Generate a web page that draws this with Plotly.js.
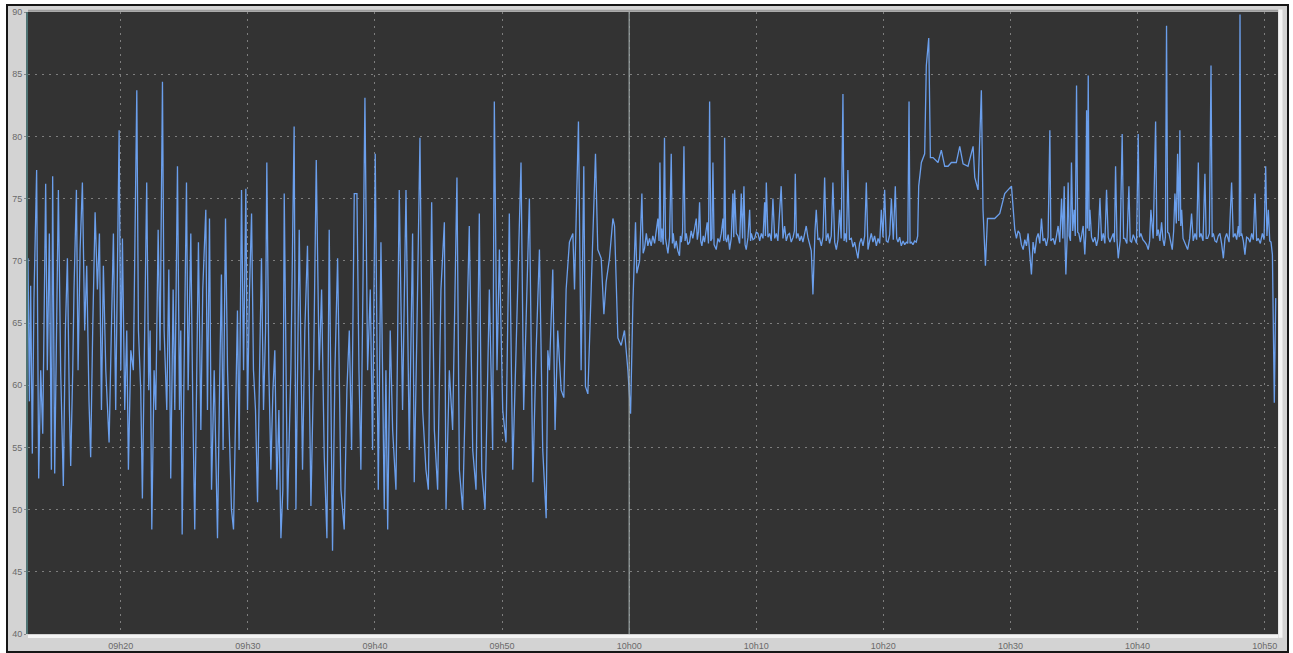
<!DOCTYPE html>
<html>
<head>
<meta charset="utf-8">
<script src="https://cdn.plot.ly/plotly-3.0.1.min.js"></script>
<style>
  html, body { margin: 0; padding: 0; background: #ffffff; width: 1293px; height: 653px; overflow: hidden; }
  #frame { position: absolute; left: 6px; top: 4px; width: 1279px; height: 645px; border: 2px solid #161616; background: #d3d3d3; }
  #chart { width: 1279px; height: 645px; }
</style>
</head>
<body>
<div id="frame"><div id="chart"></div></div>
<script>
// Times are minutes after 09:00; levels are the plotted values.
// 09:12 - 09:52 : strong oscillation
const timeSwing = [
12.70,12.81,12.91,13.04,13.17,13.38,13.54,13.70,13.86,14.09,14.22,14.38,14.54,14.64,14.80,14.96,15.09,15.27,15.48,15.64,
15.80,15.96,16.06,16.22,16.32,16.51,16.64,16.80,16.98,17.16,17.32,17.50,17.63,17.79,17.98,18.16,18.32,18.48,18.63,18.82,
19.08,19.26,19.42,19.60,19.87,20.00,20.13,20.31,20.47,20.60,20.79,20.99,21.13,21.26,21.39,21.57,21.70,21.89,22.04,22.20,
22.31,22.44,22.62,22.75,22.94,23.09,23.28,23.41,23.62,23.78,23.93,24.12,24.25,24.46,24.62,24.72,24.83,24.98,25.17,25.30,
25.51,25.67,25.82,25.98,26.11,26.30,26.45,26.69,26.82,26.98,27.14,27.35,27.48,27.61,27.77,27.92,28.05,28.24,28.40,28.55,
28.71,28.87,29.03,29.18,29.31,29.50,29.66,29.84,29.97,30.13,30.29,30.44,30.60,30.76,30.92,31.07,31.23,31.39,31.49,31.65,
31.81,31.97,32.12,32.28,32.44,32.60,32.75,
32.86,33.12,33.38,33.64,33.78,34.04,34.30,34.48,34.69,34.96,35.17,35.38,35.61,35.80,36.01,36.22,36.40,36.66,36.85,37.06,
37.32,37.58,37.79,37.98,38.16,38.37,38.58,38.74,38.89,39.05,39.21,39.42,39.63,39.81,40.02,40.26,40.47,40.73,40.86,41.00,
41.20,41.39,41.65,41.91,42.17,42.44,42.70,42.96,43.09,43.30,43.54,43.75,44.01,44.20,44.46,44.67,44.93,45.19,45.46,45.59,
45.85,46.11,46.45,46.64,46.90,47.16,47.42,47.69,47.95,48.21,48.40,48.66,49.00,49.26,49.39,49.60,49.79,50.05,50.31,50.57,
50.84,51.10,51.49,51.70
];
const levelSwing = [
70.2,58.7,68.0,54.5,67.0,77.3,52.5,61.2,56.1,76.2,61.2,72.2,53.2,76.8,52.9,67.7,75.7,61.2,51.9,64.4,
70.2,58.0,53.5,61.2,67.7,75.7,61.2,70.9,76.3,64.4,69.6,58.7,54.2,64.4,73.9,67.7,72.2,58.0,69.6,61.2,
55.4,64.4,72.2,58.0,80.5,61.2,71.8,58.0,64.4,53.2,62.8,61.2,70.9,83.7,64.4,59.6,50.9,64.4,76.3,59.6,
64.4,48.4,61.2,58.0,72.5,62.8,84.4,64.4,58.0,69.3,52.5,67.7,58.0,77.6,58.0,64.4,48.0,61.2,76.3,59.6,
72.2,58.0,48.4,61.2,71.5,56.4,67.7,74.1,58.0,73.4,51.6,61.2,54.8,47.7,59.6,68.9,54.8,73.4,61.2,56.4,
50.0,48.4,58.0,66.0,54.8,75.7,61.2,75.8,58.0,67.7,73.8,61.2,58.0,50.6,61.2,70.2,58.0,64.4,77.9,61.2,
53.2,59.6,62.8,51.6,58.0,47.7,51.6,
75.4,50.0,61.2,80.8,50.0,72.5,53.2,64.4,71.2,50.3,61.2,78.1,61.2,67.7,54.2,47.7,72.5,46.7,61.2,70.2,
51.6,48.4,59.6,64.4,54.8,75.4,75.4,61.2,53.2,67.7,83.1,61.2,67.7,54.8,78.6,51.6,71.5,50.0,61.2,48.4,
64.4,56.4,51.6,75.7,58.0,75.7,54.8,72.2,52.2,64.4,79.9,58.0,53.2,51.6,74.7,56.4,51.6,67.7,73.1,50.0,
61.2,56.4,76.7,53.2,50.0,61.2,72.8,54.8,51.6,73.8,53.2,50.0,67.7,54.8,82.8,61.2,70.9,58.0,55.4,73.8,
53.2,62.8,77.9,58.0
];
// 09:52 - 10:00 : rise towards the new level
const timeRise = [
52.15,52.42,52.68,52.94,53.20,53.47,53.60,53.73,53.99,54.17,
54.38,54.65,54.86,55.04,55.30,55.57,55.70,55.83,56.01,56.22,
56.43,56.56,56.75,57.01,57.35,57.53,57.80,58.01,58.19,58.45,
58.72,58.85,59.11,59.37,59.63,59.90,60.11
];
const levelRise = [
75.0,52.2,62.8,70.9,54.8,49.3,62.8,61.2,69.3,56.4,
64.4,59.6,59.0,67.7,71.5,72.2,67.7,73.4,81.2,61.2,
77.6,59.9,59.3,67.7,78.6,70.9,70.2,65.7,68.3,70.2,
73.4,72.8,63.8,63.2,64.4,61.2,57.7
];
// 10:00 - 10:23 : steady level with spikes
const timeSteady = [
60.29,60.40,60.50,60.60,60.82,61.00,61.10,61.21,61.35,61.47,
61.60,61.73,61.86,62.00,62.13,62.26,62.35,62.42,62.50,62.57,
62.68,62.78,62.86,62.94,63.05,63.18,63.31,63.40,63.47,63.58,
63.70,63.83,63.96,64.03,64.10,64.20,64.31,64.40,64.49,64.62,
64.75,64.88,65.01,65.15,65.28,65.36,65.45,65.54,65.63,65.72,
65.83,65.93,66.04,66.14,66.24,66.33,66.42,66.51,66.59,66.68,
66.85,66.98,67.11,67.25,67.38,67.45,67.51,67.59,67.67,67.79,
67.90,68.03,68.16,68.23,68.30,68.43,68.56,68.69,68.82,68.92,
69.03,69.12,69.21,69.35,69.48,69.55,69.61,69.74,69.87,70.00,
70.13,70.27,70.40,70.53,70.66,70.72,70.79,70.92,71.05,71.18,
71.31,71.45,71.58,71.70,71.96,72.10,72.23,72.36,72.50,72.62,
72.75,72.90,73.00,73.07,73.16,73.28,73.42,73.55,73.67,73.80,
73.93,74.06,74.20,74.33,74.46,74.55,74.62,74.72,74.85,74.98,
75.12,75.25,75.38,75.50,75.64,75.77,75.90,76.03,76.17,76.30,
76.43,76.56,76.68,76.82,76.91,77.00,77.10,77.21,77.33,77.48,
77.61,77.74,77.87,78.00,78.13,78.26,78.40,78.53,78.66,78.79,
78.92,79.05,79.18,79.31,79.45,79.58,79.71,79.84,79.97,80.10,
80.23,80.36,80.50,80.63,80.78,80.94,81.05,81.15,81.28,81.41,
81.55,81.68,81.81,81.92,82.02,82.10,82.20,82.33,82.46,82.59,
82.70,82.78
];
const levelSteady = [
66.5,69.2,73.1,69.0,70.0,75.4,70.6,71.0,72.2,71.2,
71.8,71.2,72.0,71.4,72.5,73.4,71.6,77.9,71.5,72.6,
71.3,79.9,71.8,71.2,70.6,71.9,78.6,71.4,72.2,71.0,
71.6,70.8,70.4,72.0,71.5,72.3,79.2,71.6,72.2,71.3,
71.5,72.4,71.8,72.6,73.4,71.7,72.3,74.7,71.6,71.2,
72.0,71.5,72.3,73.1,71.4,82.8,71.6,71.8,77.9,71.3,
70.9,71.8,71.5,72.2,73.4,71.6,79.9,71.8,71.5,72.1,
70.9,71.8,75.4,71.9,75.7,72.2,72.0,71.4,75.4,71.8,
76.0,71.3,70.9,71.9,74.1,71.6,72.2,71.7,71.8,72.3,
72.2,71.6,72.2,71.8,74.7,72.0,76.3,71.9,72.2,71.6,
75.0,71.8,72.2,71.6,76.0,71.8,72.8,71.6,72.1,72.2,
71.5,71.9,72.4,77.0,71.8,72.2,71.6,72.0,71.5,72.1,
72.8,71.9,71.2,70.8,67.3,71.5,72.4,74.1,71.7,71.8,
71.2,71.9,76.7,71.6,72.2,71.4,72.0,76.3,71.5,70.9,
71.7,74.1,71.8,83.4,71.6,72.2,71.5,77.3,71.7,71.8,
71.1,71.5,70.9,70.2,71.4,71.8,71.2,72.0,76.3,70.9,
71.6,72.2,71.5,72.0,71.2,71.8,71.4,74.1,71.9,75.7,
71.6,71.5,72.1,75.0,71.7,76.0,71.8,71.5,71.9,71.2,
71.6,71.3,71.5,71.4,82.8,71.4,71.5,71.3,71.6,71.5,
72.0,76.0
];
// 10:23 - 10:30 : raised plateau, then intermediate step
const timePlateau = [
82.99,83.25,83.38,83.57,83.70,83.91,84.30,84.56,84.83,85.09,
85.35,85.74,86.01,86.27,86.66,87.06,87.19,87.45,87.71,87.84,
88.03,88.19,88.37,88.76,89.16,89.55,89.81,90.08
];
const levelPlateau = [
77.9,78.6,85.7,87.9,78.3,78.3,77.9,78.9,77.6,77.6,
77.9,77.9,79.2,77.8,77.6,79.2,76.7,75.7,83.7,74.1,
69.6,73.4,73.4,73.4,73.8,75.4,75.7,76.0
];
// 10:30 - 10:51 : steady level with spikes, final drop
const timeLate = [
90.34,90.47,90.60,90.73,90.86,91.00,91.13,91.26,91.39,91.52,
91.65,91.78,91.92,92.05,92.18,92.31,92.44,92.57,92.70,92.83,
92.96,93.10,93.18,93.36,93.49,93.62,93.75,93.88,94.02,94.12,
94.23,94.30,94.36,94.45,94.54,94.62,94.72,94.80,94.90,95.01,
95.10,95.20,95.29,95.38,95.50,95.61,95.72,95.85,95.92,95.99,
96.05,96.12,96.19,96.25,96.38,96.51,96.64,96.77,96.90,97.04,
97.17,97.30,97.43,97.56,97.69,97.82,97.95,98.09,98.18,98.27,
98.38,98.48,98.63,98.79,98.90,99.00,99.16,99.32,99.42,99.53,
99.66,99.79,99.92,100.05,100.15,100.26,100.42,100.58,100.71,100.84,
100.95,101.05,101.23,101.42,101.52,101.63,101.76,101.89,102.00,102.10,
102.19,102.28,102.37,102.47,102.60,102.73,102.84,102.94,103.05,103.15,
103.24,103.33,103.40,103.47,103.58,103.68,103.81,103.94,104.10,104.25,
104.38,104.52,104.65,104.78,104.88,104.99,105.15,105.30,105.40,105.51,
105.65,105.78,105.87,105.96,106.09,106.22,106.35,106.48,106.61,106.75,
106.88,107.01,107.20,107.40,107.53,107.67,107.80,107.93,108.00,108.06,
108.13,108.19,108.32,108.45,108.58,108.72,108.85,108.98,109.11,109.24,
109.37,109.50,109.66,109.82,109.95,110.08,110.18,110.29,110.40,110.50,
110.61,110.68,110.76,110.87
];
const levelLate = [
72.5,71.8,72.4,72.2,71.3,70.9,71.7,71.2,72.2,70.8,
68.9,71.5,70.6,71.8,72.2,71.4,73.4,71.6,71.8,71.2,
71.9,80.5,71.6,71.8,71.3,72.0,72.8,71.5,75.0,71.8,
76.0,71.2,68.9,71.6,76.3,72.0,71.6,77.9,72.4,74.1,
72.0,84.1,72.3,72.2,71.5,72.1,72.8,70.5,72.0,82.1,
72.6,84.9,72.4,74.1,71.9,71.5,71.9,71.2,71.8,75.0,
71.6,72.2,71.4,75.7,71.9,71.5,71.8,72.2,71.5,77.6,
71.7,70.2,71.6,80.2,71.8,71.8,71.4,76.0,71.6,71.5,
72.1,71.8,71.4,80.2,71.9,72.2,71.7,71.5,71.3,70.9,
71.6,74.1,71.8,81.2,72.0,72.5,71.6,73.1,71.7,71.2,
71.9,88.9,72.3,72.2,71.6,70.9,72.4,75.4,73.0,78.6,
73.2,80.5,72.8,74.1,71.8,71.5,71.2,70.9,71.8,73.8,
71.6,72.2,71.7,77.9,71.9,72.2,71.6,77.0,71.8,71.8,
72.2,85.7,71.9,72.2,71.6,71.5,72.0,72.2,71.4,70.2,
71.8,72.2,71.5,76.3,71.9,72.2,71.7,72.8,71.9,89.8,
72.0,72.2,71.6,70.5,71.9,71.8,71.5,72.2,71.7,75.4,
71.6,71.8,71.4,72.2,71.7,77.6,72.0,74.1,71.6,71.5,
70.5,64.4,58.6,67.0
];

const tickMinutes = [20, 30, 40, 50, 60, 70, 80, 90, 100, 110];
const tickLabels = ['09h20', '09h30', '09h40', '09h50', '10h00', '10h10', '10h20', '10h30', '10h40', '10h50'];
const xRange = [12.70, 111.05];
const yRange = [40, 90];

const timeMin = [].concat(timeSwing, timeRise, timeSteady, timePlateau, timeLate);
const level = [].concat(levelSwing, levelRise, levelSteady, levelPlateau, levelLate);

const trace = {
  x: timeMin, y: level, type: 'scatter', mode: 'lines',
  line: { color: '#6b9fec', width: 1.3 },
  hoverinfo: 'skip'
};

const layout = {
  width: 1279, height: 645,
  margin: { l: 20, r: 9, t: 6, b: 17 },
  paper_bgcolor: '#d3d3d3',
  plot_bgcolor: '#333333',
  showlegend: false,
  font: { family: 'Liberation Sans, Arial, sans-serif', size: 9, color: '#6a6a6a' },
  xaxis: {
    range: xRange, tickmode: 'array', tickvals: tickMinutes, ticktext: tickLabels,
    showgrid: true, gridcolor: '#7e7e7e', griddash: '2px,5px', gridwidth: 1,
    zeroline: false, showline: false,
    ticks: 'outside', ticklen: 3, tickcolor: '#8a8a8a',
    tickfont: { size: 9, color: '#6a6a6a' }
  },
  yaxis: {
    range: yRange, dtick: 5, tick0: 40,
    showgrid: true, gridcolor: '#7e7e7e', griddash: '2px,5px', gridwidth: 1,
    zeroline: false, showline: true, linecolor: '#4f7373', linewidth: 2,
    ticks: 'outside', ticklen: 2, tickcolor: '#8a8a8a',
    tickfont: { size: 9, color: '#6a6a6a' }
  },
  shapes: [
    { type: 'line', xref: 'x', yref: 'paper', x0: 60, x1: 60, y0: 0, y1: 1,
      line: { color: '#9aa3a3', width: 1.2 } },
    { type: 'line', xref: 'paper', yref: 'paper', x0: 0, x1: 1, y0: -0.004, y1: -0.004,
      line: { color: '#f4f4f4', width: 3 } },
    { type: 'line', xref: 'paper', yref: 'paper', x0: 1.002, x1: 1.002, y0: -0.006, y1: 1.004,
      line: { color: '#f4f4f4', width: 4 } },
    { type: 'line', xref: 'paper', yref: 'paper', x0: 0, x1: 1, y0: 1.002, y1: 1.002,
      line: { color: '#9c9c9c', width: 2 } }
  ]
};

Plotly.newPlot('chart', [trace], layout, { staticPlot: true, displayModeBar: false });
</script>
</body>
</html>
